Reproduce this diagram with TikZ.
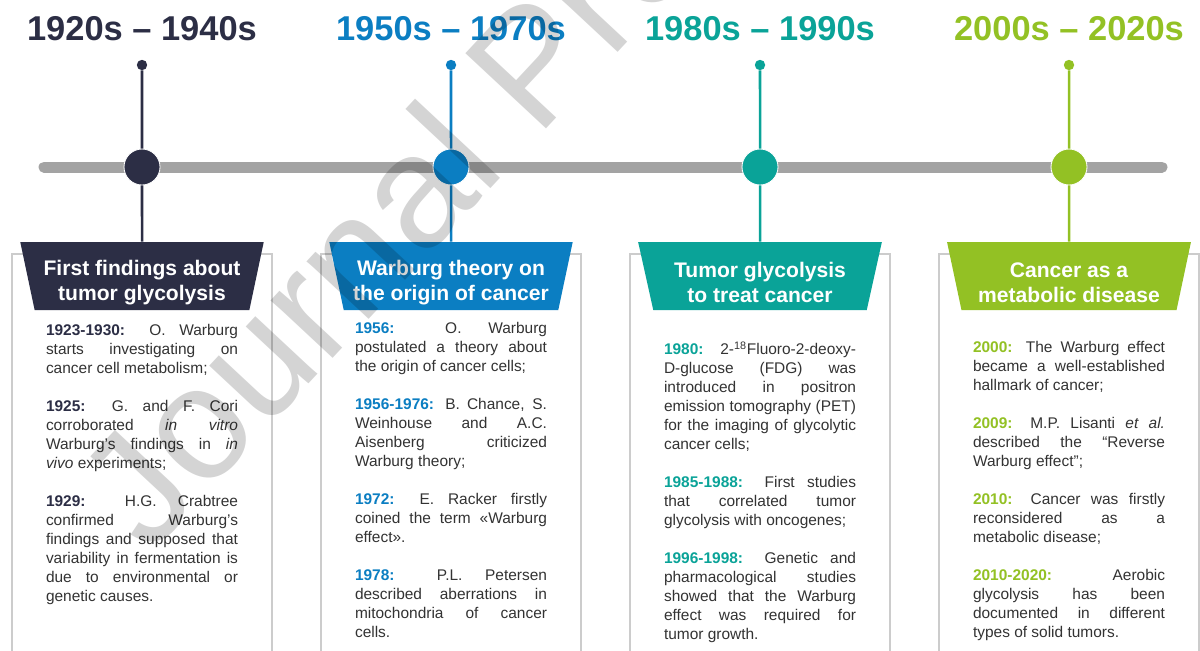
\documentclass[tikz,border=0pt]{standalone}
\usepackage{fontspec}
\setmainfont{Liberation Sans}
\usetikzlibrary{shapes.geometric, positioning}

\definecolor{navyc}{RGB}{44,46,69}
\definecolor{bluec}{RGB}{11,126,194}
\definecolor{tealc}{RGB}{10,163,152}
\definecolor{greenc}{RGB}{147,193,36}
\definecolor{barc}{RGB}{163,163,163}
\definecolor{bodyc}{RGB}{51,51,51}

% forced line ends, no hyphenation
\tolerance=10000
\hbadness=10000
\hyphenpenalty=10000
\exhyphenpenalty=10000

\newcommand{\tlyear}[2]{{\color{#1}\bfseries #2}}
\newcommand{\blankline}{\par\vspace{13.5pt}}

\begin{document}
\begin{tikzpicture}[
  yearlbl/.style={font=\fontsize{24.5}{29}\selectfont\bfseries, inner sep=0},
  tick/.style={circle, minimum size=0.26cm, inner sep=0},
  hub/.style={circle, minimum size=0.9cm, inner sep=0, draw=white, line width=0.6pt},
  stem/.style={line width=1.8pt},
  cardbox/.style={anchor=north, fill=white, draw=gray!40, line width=1.2pt, minimum width=6.5cm, minimum height=10.6cm},
  banner/.style={trapezium, trapezium left angle=77, trapezium right angle=77, shape border rotate=180,
    trapezium stretches=true, minimum width=6.1cm, minimum height=1.7cm, inner sep=0, text height=37.4pt,
    text=white, align=center, font=\fontsize{15}{17.8}\selectfont\bfseries},
  bodytxt/.style={text width=4.8cm, align=justify, inner sep=0, text=bodyc, font=\fontsize{11}{13.5}\selectfont}
]
  \clip (0,0) rectangle (30,-16.25);

  % Time axis
  \coordinate (barL) at (1.1,-4.175);
  \coordinate (barR) at (29.05,-4.175);
  \draw[barc, line width=0.275cm, line cap=round] (barL) -- (barR);

  % Cards
  \foreach \i in {1,2,3,4} {
    \node[cardbox] (card\i) at ({3.55+7.725*(\i-1)},-6.325) {};
  }

  % Periods, ticks, banners
  \foreach \i/\col/\yrs/\ttl [evaluate=\i as \x using {3.55+7.725*(\i-1)}] in {
      1/navyc/{1920s -- 1940s}/{First findings about\\tumor glycolysis},
      2/bluec/{1950s -- 1970s}/{Warburg theory on\\the origin of cancer},
      3/tealc/{1980s -- 1990s}/{Tumor glycolysis\\to treat cancer},
      4/greenc/{2000s -- 2020s}/{Cancer as a\\metabolic disease}} {
    \node[yearlbl, text=\col] (yr\i) at (\x,-0.72) {\yrs};
    \node[tick, fill=\col] (tick\i) at (\x,-1.625) {};
    \node[banner, fill=\col] (ban\i) at (\x,-6.9) {\ttl};
    \draw[stem, \col] (tick\i) -- (ban\i.north);
    \node[hub, fill=\col] (hub\i) at (\x,-4.175) {};
  }

  % Events
  \node[bodytxt, below=0.35cm of ban1] (txt1) {%
    \tlyear{navyc}{1923-1930:} O. Warburg\linebreak starts investigating on\linebreak cancer cell metabolism;\blankline
    \tlyear{navyc}{1925:} G. and F. Cori\linebreak corroborated \textit{in vitro}\linebreak Warburg’s findings in \textit{in}\linebreak \textit{vivo} experiments;\blankline
    \tlyear{navyc}{1929:} H.G. Crabtree\linebreak confirmed Warburg’s\linebreak findings and supposed that\linebreak variability in fermentation is\linebreak due to environmental or\linebreak genetic causes.};
  \node[bodytxt, below=0.3cm of ban2] (txt2) {%
    \tlyear{bluec}{1956:} O. Warburg\linebreak postulated a theory about\linebreak the origin of cancer cells;\blankline
    \tlyear{bluec}{1956-1976:} B. Chance, S.\linebreak Weinhouse and A.C.\linebreak Aisenberg criticized\linebreak Warburg theory;\blankline
    \tlyear{bluec}{1972:} E. Racker firstly\linebreak coined the term «Warburg\linebreak effect».\blankline
    \tlyear{bluec}{1978:} P.L. Petersen\linebreak described aberrations in\linebreak mitochondria of cancer\linebreak cells.};
  \node[bodytxt, below=0.775cm of ban3] (txt3) {%
    \tlyear{tealc}{1980:} 2-\textsuperscript{18}Fluoro-2-deoxy-\linebreak D-glucose (FDG) was\linebreak introduced in positron\linebreak emission tomography (PET)\linebreak for the imaging of glycolytic\linebreak cancer cells;\blankline
    \tlyear{tealc}{1985-1988:} First studies\linebreak that correlated tumor\linebreak glycolysis with oncogenes;\blankline
    \tlyear{tealc}{1996-1998:} Genetic and\linebreak pharmacological studies\linebreak showed that the Warburg\linebreak effect was required for\linebreak tumor growth.};
  \node[bodytxt, below=0.775cm of ban4] (txt4) {%
    \tlyear{greenc}{2000:} The Warburg effect\linebreak became a well-established\linebreak hallmark of cancer;\blankline
    \tlyear{greenc}{2009:} M.P. Lisanti \textit{et al.}\linebreak described the “Reverse\linebreak Warburg effect”;\blankline
    \tlyear{greenc}{2010:} Cancer was firstly\linebreak reconsidered as a\linebreak metabolic disease;\blankline
    \tlyear{greenc}{2010-2020:} Aerobic\linebreak glycolysis has been\linebreak documented in different\linebreak types of solid tumors.};

  % Watermark
  \node[rotate=47, opacity=0.17, font=\fontsize{114}{114}\selectfont] (wmark) at (13.525,-1.85) {Journal Pre-proof};
\end{tikzpicture}
\end{document}
